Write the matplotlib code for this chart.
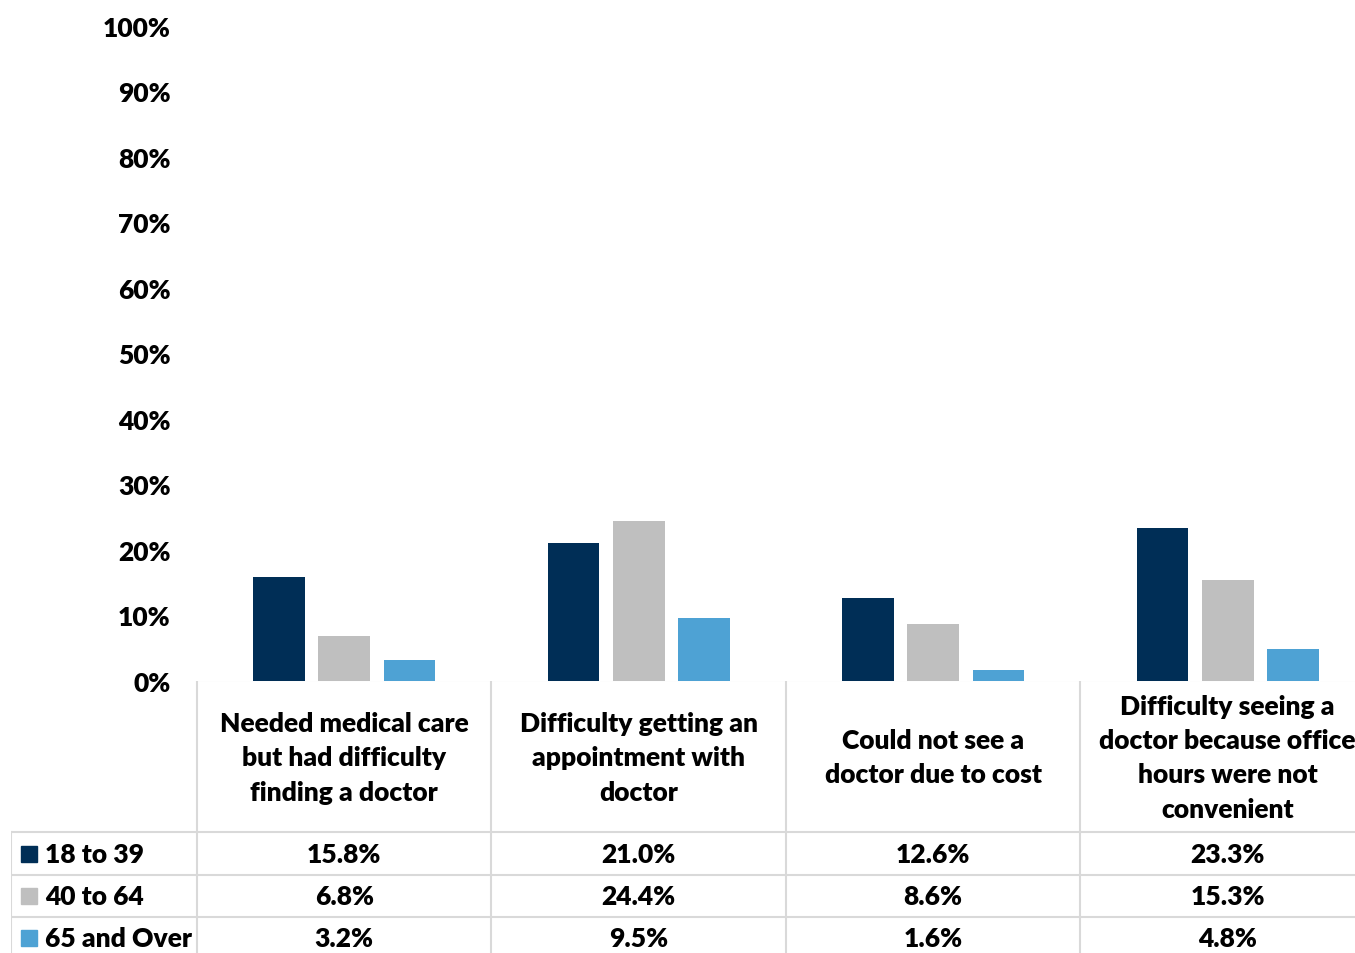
import numpy as np
import matplotlib.pyplot as plt

plt.rcParams['font.family'] = ['Lato', 'DejaVu Sans']
plt.rcParams['font.weight'] = 'bold'

categories = ['Needed medical care\nbut had difficulty\nfinding a doctor',
              'Difficulty getting an\nappointment with\ndoctor',
              'Could not see a\ndoctor due to cost',
              'Difficulty seeing a\ndoctor because office\nhours were not\nconvenient']
groups = ['18 to 39', '40 to 64', '65 and Over']
age_18_39 = [15.8, 21.0, 12.6, 23.3]
age_40_64 = [6.8, 24.4, 8.6, 15.3]
age_65_over = [3.2, 9.5, 1.6, 4.8]
colors = ['#002e56', '#bfbfbf', '#4ea2d4']

W, H = 1355, 954
FS = 19
fig = plt.figure(figsize=(W / 100, H / 100), dpi=100)

# plot area: pixel boxes converted to figure fractions
col_w = 294.5
x0, y_top, y_zero = 197, 27, 681.5
ax = fig.add_axes([x0 / W, 1 - y_zero / H, 4 * col_w / W, (y_zero - y_top) / H])

series = [age_18_39, age_40_64, age_65_over]
x = np.arange(len(categories))
bw, step = 0.175, 0.221
for i, vals in enumerate(series):
    ax.bar(x + (i - 1) * step, vals, width=bw, color=colors[i], zorder=2)

ax.set_xlim(-0.5, len(categories) - 0.5)
ax.set_ylim(0, 100)
ax.set_yticks(np.arange(0, 101, 10))
ax.set_yticklabels([f'{v}%' for v in range(0, 101, 10)], fontsize=FS, fontweight='heavy')
ax.tick_params(axis='y', length=0, pad=19)
ax.set_xticks([])
for s in ax.spines.values():
    s.set_visible(False)

# data table under the plot
left_px, bottom_px = 11, 962
legend_w = (x0 - left_px) / col_w
tx = fig.add_axes([left_px / W, 1 - bottom_px / H, (x0 + 4 * col_w - left_px) / W,
                   (bottom_px - y_zero) / H])
tx.set_xlim(-0.5 - legend_w, len(categories) - 0.5)
tx.set_ylim(bottom_px, y_zero)
tx.axis('off')

line_c = '#d9d9d9'
row_edges = [833, 876, 918, bottom_px]
tx.plot([-0.5, 3.5], [y_zero, y_zero], color=line_c, lw=1.5)
for y in row_edges:
    tx.plot([-0.5 - legend_w, 3.5], [y, y], color=line_c, lw=1.5)
for xv in [-0.5, 0.5, 1.5, 2.5, 3.5]:
    tx.plot([xv, xv], [y_zero, bottom_px], color=line_c, lw=1.5)
tx.plot([-0.5 - legend_w, -0.5 - legend_w], [833, bottom_px], color=line_c, lw=1.5)

for j, cat in enumerate(categories):
    tx.text(j, (y_zero + 833) / 2 + 1, cat, ha='center', va='center', fontsize=FS,
            fontweight='heavy', linespacing=1.52)

row_centers = [855, 897, 939.5]
for i, (name, vals) in enumerate(zip(groups, series)):
    yc = row_centers[i]
    sq_x = -0.5 - legend_w + 10 / col_w
    tx.add_patch(plt.Rectangle((sq_x, yc - 8), 16 / col_w, 16, color=colors[i]))
    tx.text(sq_x + 24 / col_w, yc, name, ha='left', va='center', fontsize=FS,
            fontweight='heavy')
    for j, v in enumerate(vals):
        tx.text(j, yc, f'{v:.1f}%', ha='center', va='center', fontsize=FS,
                fontweight='heavy')

fig.savefig('out.png', dpi=100)
